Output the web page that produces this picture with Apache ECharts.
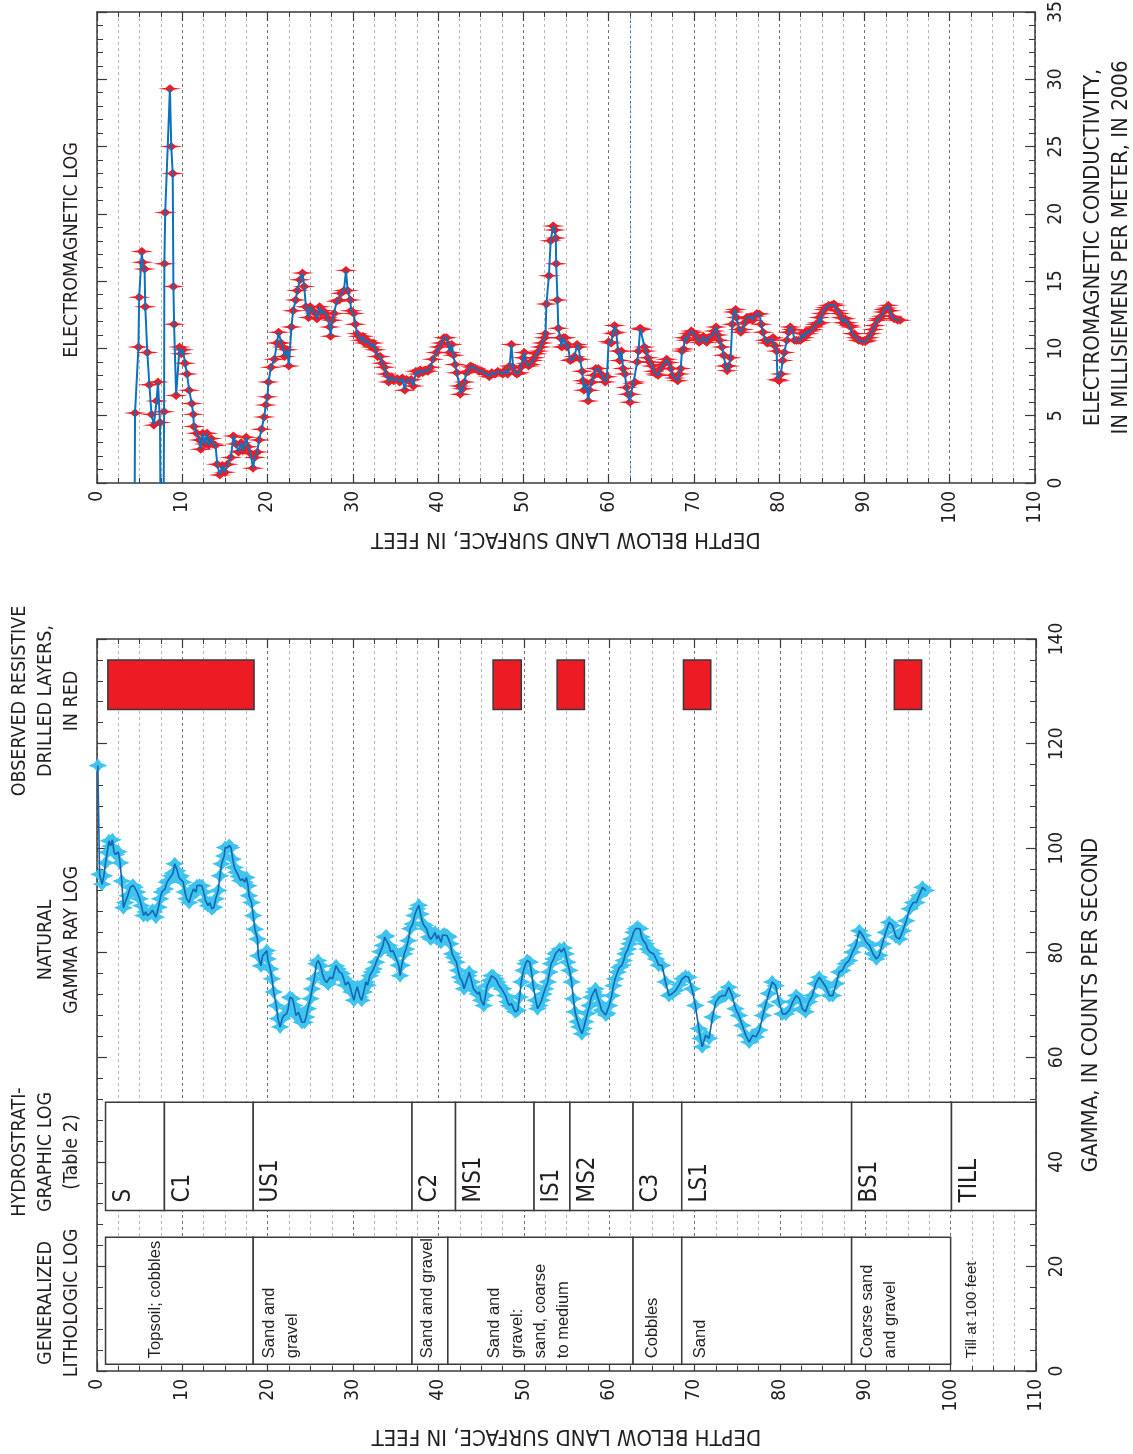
<!DOCTYPE html>
<html>
<head>
<meta charset="utf-8">
<title>Borehole logs</title>
<script src="https://cdn.jsdelivr.net/npm/echarts@6/dist/echarts.min.js"></script>
<style>
  html, body { margin: 0; padding: 0; background: #fff; }
  #chart { width: 1133px; height: 1454px; }
</style>
</head>
<body>
<div id="chart"></div>
<script>
// ---- Electromagnetic conductivity log, 2006: [depth ft, mS/m] (values below 0 fall off-scale)
const emLog = [
  [4.4,-4],[4.46,5.2],[4.86,10.1],[4.94,13.8],[5.26,17.2],[5.34,16.4],[5.58,15.9],[5.66,13.1],[5.9,9.7],[6.14,7.3],
  [6.39,5.1],[6.67,4.3],[6.99,6.1],[7.15,7.5],[7.39,4.5],[7.47,-4],[7.79,-4],[7.87,5.3],[7.9,16.3],[8.0,20.1],
  [8.55,29.3],[8.71,25.0],[8.88,23.0],[8.96,14.6],[9.04,11.8],[9.28,6.5],[9.68,10.1],[9.88,9.6],[10.08,9.9],[10.32,8.9],
  [10.56,8.1],[10.8,6.9],[11.12,5.9],[11.29,5.1],[11.37,4.2],[11.69,3.7],[12.0,3.2],[12.17,2.5],[12.4,3.7],[12.65,2.9],
  [12.9,3.7],[13.1,2.8],[13.4,3.3],[13.6,2.9],[13.9,2.8],[14.1,1.4],[14.4,0.6],[14.7,1.3],[15.0,0.8],[15.3,1.4],
  [15.7,1.9],[16.0,3.5],[16.3,2.9],[16.6,2.3],[16.9,3.0],[17.1,2.4],[17.5,3.4],[17.7,2.7],[18.0,2.2],[18.3,1.1],
  [18.5,1.9],[18.8,2.3],[19.0,3.2],[19.3,4.0],[19.6,4.9],[19.8,5.8],[20.0,6.4],[20.1,7.5],[20.4,8.6],[20.8,9.2],
  [21.1,10.4],[21.3,11.2],[21.6,10.4],[21.8,10.1],[22.0,9.4],[22.3,9.9],[22.5,8.7],[22.8,11.6],[23.0,12.8],[23.3,13.6],
  [23.5,14.3],[23.8,15.1],[24.1,15.6],[24.3,14.6],[24.5,13.1],[24.8,12.3],[25.0,13.1],[25.3,12.8],[25.6,12.6],[25.8,12.2],
  [26.1,13.1],[26.3,12.6],[26.5,12.8],[26.8,12.6],[27.0,12.3],[27.3,11.6],[27.4,10.9],[27.6,12.1],[27.8,12.6],[28.1,13.5],
  [28.4,13.6],[28.6,14.1],[28.96,14.3],[29.2,15.8],[29.4,14.3],[29.7,13.6],[29.8,12.8],[30.1,12.6],[30.3,11.8],[30.5,11.1],
  [30.7,10.9],[30.97,10.6],[31.2,10.9],[31.4,10.4],[31.7,10.6],[31.9,10.4],[32.2,10.1],[32.4,10.4],[32.65,9.9],[32.9,9.4],
  [33.2,9.4],[33.45,8.9],[33.7,8.6],[33.9,8.1],[34.2,7.5],[34.5,7.9],[34.8,7.6],[35.2,7.75],[35.5,7.5],[35.8,7.8],
  [36.1,6.9],[36.3,7.7],[36.6,7.6],[36.85,7.7],[37.1,7.2],[37.4,8.3],[37.7,8.1],[37.9,8.4],[38.2,8.2],[38.5,8.4],
  [38.8,8.3],[39.1,8.6],[39.4,9.2],[39.8,9.7],[40.1,10.1],[40.4,10.4],[40.7,10.8],[41.0,10.8],[41.2,10.3],[41.4,9.7],
  [41.6,10.3],[41.8,9.5],[42.0,8.8],[42.2,8.2],[42.5,7.2],[42.6,6.6],[42.9,7.0],[43.1,7.5],[43.3,8.2],[43.6,8.3],
  [43.8,8.7],[44.1,8.6],[44.4,8.5],[44.8,8.3],[45.1,8.3],[45.4,8.2],[45.7,8.1],[46.0,7.9],[46.3,8.2],[46.65,8.1],
  [47.0,8.3],[47.3,8.2],[47.6,8.1],[47.9,8.4],[48.15,8.1],[48.4,8.7],[48.6,10.3],[48.8,8.6],[49.0,8.2],[49.25,8.1],
  [49.5,8.2],[49.7,8.6],[49.96,9.3],[50.1,9.7],[50.35,8.9],[50.6,8.7],[50.8,8.8],[51.1,9.1],[51.3,9.3],[51.5,9.6],
  [51.8,9.8],[52.0,10.1],[52.2,10.4],[52.5,10.8],[52.6,11.1],[52.7,13.3],[53.0,15.4],[53.2,18.0],[53.5,19.1],[53.7,18.8],
  [53.8,18.2],[53.85,16.3],[54.0,13.6],[54.1,11.5],[54.3,10.8],[54.5,10.1],[54.7,10.8],[54.9,10.8],[55.1,10.1],[55.2,10.3],
  [55.5,9.1],[55.8,9.2],[56.0,9.4],[56.3,10.3],[56.5,10.1],[56.65,9.2],[56.9,8.3],[57.0,7.6],[57.1,6.9],[57.4,7.4],
  [57.6,6.1],[57.75,6.9],[58.0,7.5],[58.3,8.0],[58.5,8.5],[58.8,8.5],[59.1,8.1],[59.3,7.9],[59.6,7.5],[59.8,7.9],
  [60.0,10.5],[60.3,10.4],[60.5,11.1],[60.7,11.7],[60.9,11.2],[61.1,9.8],[61.3,9.1],[61.5,9.8],[61.7,8.5],[61.9,8.1],
  [62.1,7.1],[62.25,6.6],[62.5,6.0],[62.6,6.6],[62.9,7.4],[63.1,7.5],[63.35,9.0],[63.5,9.8],[63.7,11.5],[63.9,11.4],
  [64.2,10.1],[64.4,9.8],[64.6,9.3],[64.8,9.0],[65.1,8.7],[65.3,8.3],[65.55,8.1],[65.8,8.0],[66.1,8.5],[66.4,8.8],
  [66.6,8.95],[66.8,9.2],[67.05,8.95],[67.3,8.5],[67.5,8.0],[67.75,7.8],[68.1,7.6],[68.3,8.1],[68.45,8.5],[68.6,9.8],
  [68.8,9.95],[68.9,10.8],[69.15,10.6],[69.4,11.1],[69.7,11.3],[69.9,11.2],[70.15,11.0],[70.4,10.7],[70.6,10.45],[70.85,10.6],
  [71.1,10.9],[71.25,10.6],[71.5,10.45],[71.7,10.8],[71.9,10.7],[72.2,11.0],[72.4,11.3],[72.6,11.6],[72.8,11.0],[73.0,10.6],
  [73.3,10.1],[73.5,9.5],[73.7,8.7],[73.9,8.35],[74.1,8.7],[74.3,9.3],[74.5,11.8],[74.65,12.7],[74.9,12.9],[75.0,12.3],
  [75.3,11.4],[75.5,11.2],[75.7,11.4],[75.95,11.9],[76.2,12.3],[76.4,12.2],[76.7,12.36],[76.9,12.1],[77.1,12.4],[77.4,12.6],
  [77.7,12.55],[77.9,11.8],[78.1,11.2],[78.4,10.6],[78.6,10.4],[78.8,10.6],[79.1,10.7],[79.3,10.8],[79.5,10.2],[79.7,9.8],
  [79.8,7.7],[80.0,7.6],[80.2,8.1],[80.4,9.1],[80.6,9.7],[80.9,10.6],[81.1,11.2],[81.3,11.6],[81.55,11.4],[81.8,10.6],
  [82.0,10.6],[82.25,10.6],[82.5,10.6],[82.7,11.1],[82.9,10.8],[83.2,11.3],[83.4,11.1],[83.6,11.3],[83.9,11.4],[84.1,11.6],
  [84.3,11.8],[84.6,11.9],[84.7,12.3],[84.9,11.9],[85.0,12.6],[85.3,12.9],[85.5,13.05],[85.8,13.2],[86.1,13.2],[86.4,13.3],
  [86.6,13.2],[86.8,12.8],[87.05,12.6],[87.3,12.3],[87.5,11.9],[87.75,12.2],[88.0,11.9],[88.2,11.7],[88.4,11.6],[88.6,11.1],
  [88.8,11.1],[89.05,10.8],[89.3,10.6],[89.5,10.6],[89.8,10.5],[90.1,10.5],[90.3,10.6],[90.5,10.8],[90.8,11.1],[91.0,11.4],
  [91.2,11.7],[91.5,12.1],[91.7,12.2],[92.0,12.4],[92.2,12.7],[92.3,12.9],[92.6,13.0],[92.8,13.2],[93.0,12.8],[93.2,12.4],
  [93.5,12.2],[93.9,12.1],[94.2,12.1]
];

// ---- Natural gamma log: [depth ft, counts per second]
const gammaLog = [
  [0.1,115.8],[0.3,95.0],[0.6,93.1],[0.8,94.7],[1.0,97.2],[1.2,99.2],[1.4,101.4],[1.6,100.4],[1.8,101.6],[2.0,99.2],
  [2.2,98.8],[2.5,99.3],[2.7,97.2],[2.9,93.7],[3.1,88.6],[3.3,89.6],[3.6,90.9],[3.9,92.5],[4.2,92.9],[4.4,92.5],
  [4.7,91.6],[5.0,90.3],[5.2,89.0],[5.45,87.1],[5.7,87.8],[5.9,87.1],[6.2,87.5],[6.5,88.1],[6.7,87.8],[6.9,86.8],
  [7.2,88.7],[7.4,90.3],[7.6,91.6],[7.96,92.2],[8.2,93.5],[8.4,93.8],[8.7,94.7],[8.9,95.2],[9.1,97.0],[9.4,95.7],
  [9.6,94.4],[9.8,94.7],[10.1,93.5],[10.3,91.6],[10.5,90.3],[10.8,89.6],[11.0,90.9],[11.3,92.2],[11.6,91.6],[11.7,92.8],
  [12.0,92.9],[12.3,92.8],[12.5,91.6],[12.7,90.0],[13.0,89.0],[13.2,89.6],[13.45,88.4],[13.7,88.7],[13.9,90.3],[14.2,91.9],
  [14.4,94.7],[14.6,97.0],[14.9,98.5],[15.0,100.1],[15.3,100.1],[15.5,100.5],[15.7,100.1],[15.9,97.9],[16.1,96.3],[16.35,95.4],
  [16.6,94.6],[16.8,93.8],[17.05,94.1],[17.3,93.5],[17.5,94.4],[17.7,92.8],[17.8,90.9],[18.1,89.6],[18.3,87.1],[18.5,84.5],
  [18.8,82.6],[18.9,79.4],[19.2,77.5],[19.4,79.4],[19.6,79.8],[19.9,80.4],[20.0,78.8],[20.3,76.9],[20.5,75.0],[20.7,72.5],
  [21.0,69.9],[21.2,67.4],[21.45,65.8],[21.7,67.4],[21.9,68.0],[22.2,68.3],[22.4,69.3],[22.6,71.5],[22.9,71.2],[23.1,69.9],
  [23.3,68.0],[23.6,68.6],[23.8,67.7],[24.0,66.7],[24.3,66.7],[24.5,67.7],[24.7,69.3],[25.0,71.2],[25.2,73.1],[25.45,75.0],
  [25.7,77.9],[25.9,78.5],[26.2,77.5],[26.4,76.0],[26.6,75.0],[26.9,74.3],[27.1,74.0],[27.3,75.3],[27.6,75.0],[27.8,76.3],
  [28.0,77.5],[28.2,76.9],[28.4,76.3],[28.7,76.0],[28.9,75.0],[29.1,73.8],[29.4,74.4],[29.6,73.8],[29.8,72.5],[30.1,70.9],
  [30.3,72.5],[30.5,73.5],[30.8,71.5],[31.0,70.9],[31.25,72.5],[31.5,74.4],[31.7,73.8],[31.96,75.6],[32.2,76.3],[32.4,76.9],
  [32.7,78.2],[33.2,80.2],[33.5,81.4],[33.7,83.0],[33.9,83.2],[34.2,81.4],[34.4,80.2],[34.65,80.4],[34.9,79.5],[35.1,79.8],
  [35.35,77.6],[35.5,75.6],[35.7,77.6],[36.0,79.8],[36.2,80.7],[36.45,82.3],[36.7,84.6],[37.0,85.5],[37.2,87.1],[37.5,88.4],
  [37.7,89.1],[37.9,87.4],[38.2,85.5],[38.4,85.2],[38.6,84.6],[38.9,83.0],[39.1,82.6],[39.3,83.0],[39.6,83.9],[39.8,82.6],
  [40.0,83.3],[40.3,82.0],[40.5,83.4],[40.7,83.6],[41.0,83.3],[41.2,83.0],[41.4,81.7],[41.6,79.8],[41.8,79.1],[42.1,78.2],
  [42.3,76.6],[42.5,75.3],[42.8,74.4],[43.0,73.1],[43.2,74.1],[43.5,75.6],[43.6,76.3],[43.9,74.4],[44.1,73.1],[44.3,72.8],
  [44.6,72.1],[44.8,72.5],[45.0,70.9],[45.3,69.9],[45.5,71.8],[45.7,73.7],[46.0,74.7],[46.2,75.6],[46.4,75.6],[46.7,75.0],
  [46.9,74.4],[47.1,73.7],[47.4,73.1],[47.6,73.1],[47.85,71.8],[48.1,70.6],[48.3,69.9],[48.55,70.3],[48.8,69.3],[49.0,68.7],
  [49.3,69.0],[49.5,71.5],[49.7,74.4],[49.96,76.6],[50.2,77.9],[50.4,78.5],[50.7,78.2],[50.9,76.3],[51.1,73.7],[51.4,70.9],
  [51.6,69.3],[51.8,69.9],[52.1,70.9],[52.3,72.1],[52.5,73.1],[52.8,74.4],[53.0,76.3],[53.2,77.9],[53.5,78.8],[53.7,79.8],
  [53.9,80.1],[54.2,80.7],[54.4,80.1],[54.7,80.9],[54.9,79.8],[55.1,78.2],[55.35,76.6],[55.6,74.4],[55.8,71.2],[56.0,68.7],
  [56.3,66.8],[56.5,65.8],[56.8,64.5],[57.0,65.5],[57.2,66.8],[57.45,68.4],[57.7,69.9],[57.9,71.5],[58.2,72.5],[58.4,73.1],
  [58.6,71.8],[58.9,70.3],[59.1,69.0],[59.3,68.7],[59.6,68.1],[59.8,68.4],[60.0,69.9],[60.3,71.8],[60.5,73.7],[60.7,75.0],
  [60.98,76.3],[61.2,77.2],[61.5,77.6],[61.7,78.5],[61.9,79.8],[62.2,80.7],[62.4,81.7],[62.6,82.6],[62.85,83.9],[63.1,84.6],
  [63.3,84.9],[63.6,84.6],[63.8,83.0],[64.0,82.3],[64.3,81.7],[64.5,80.7],[64.8,80.1],[65.0,80.4],[65.2,79.8],[65.5,78.8],
  [65.8,77.6],[66.2,77.6],[66.6,74.4],[67.0,71.8],[67.4,72.2],[67.8,72.8],[68.2,73.9],[68.55,75.0],[68.95,75.5],[69.3,75.3],
  [69.7,73.1],[70.1,69.9],[70.5,65.5],[70.7,63.6],[70.9,62.0],[71.3,64.2],[71.7,63.6],[72.1,67.7],[72.5,70.6],[72.9,71.5],
  [73.25,71.8],[73.6,71.8],[74.0,73.4],[74.4,71.8],[74.8,69.3],[75.2,68.0],[75.6,66.1],[76.0,64.2],[76.4,62.9],[76.8,64.2],
  [77.2,63.9],[77.6,65.2],[78.0,68.0],[78.3,69.9],[78.7,72.2],[79.1,74.4],[79.5,73.7],[79.9,70.6],[80.3,68.3],[80.7,68.3],
  [81.1,69.0],[81.5,70.6],[81.9,71.8],[82.3,71.2],[82.6,69.3],[83.0,68.7],[83.4,70.6],[83.8,71.8],[84.2,74.1],[84.6,75.3],
  [85.0,74.4],[85.4,73.4],[85.8,71.8],[86.2,71.8],[86.6,74.1],[86.95,76.3],[87.3,76.6],[87.7,77.9],[88.1,78.5],[88.5,80.1],
  [88.9,81.4],[89.3,84.2],[89.7,83.3],[90.1,82.0],[90.5,81.4],[90.9,79.8],[91.3,78.8],[91.65,79.5],[92.0,81.7],[92.4,83.9],
  [92.8,85.8],[93.2,85.2],[93.6,83.0],[94.0,82.6],[94.4,84.2],[94.8,86.1],[95.2,88.4],[95.6,89.6],[96.0,89.6],[96.3,90.9],
  [96.7,92.5],[97.1,91.9]
];

// ---- Generalized lithologic log: depth intervals (ft) and descriptions
const lithIntervals = [[1,18.3],[18.3,36.9],[36.9,41.1],[41.1,62.8],[62.8,68.5],[68.5,88.4],[88.4,100]];
const lithLabels = ['Topsoil; cobbles','Sand and\ngravel','Sand and gravel','Sand and\ngravel:\nsand, coarse\nto medium','Cobbles','Sand','Coarse sand\nand gravel'];
const lithNoteDepth = [6.9, 20.2, 38.7, 46.6, 65.1, 70.7, 90.3];
const tillNote = { depth: 102.5, text: 'Till at 100 feet' };

// ---- Hydrostratigraphic units (Table 2): boundaries in ft
const hydroUnits = ['S','C1','US1','C2','MS1','IS1','MS2','C3','LS1','BS1','TILL'];
const hydroBounds = [1, 7.9, 18.3, 36.9, 42.0, 51.2, 55.4, 62.8, 68.5, 88.4, 100.1, 110];

// ---- Observed resistive drilled layers: depth intervals (ft)
const resistiveLayers = [[1.27,18.4],[46.4,49.7],[53.9,57.1],[68.7,71.9],[93.4,96.6]];

// ---- axis ranges
const depthRange = [0, 110];
const emRange = [0, 35];
const gammaRange = [0, 140];

// ---- styling
const NARROW = "'Liberation Sans Narrow','DejaVu Sans Condensed','Liberation Sans',sans-serif";
const PLAIN = "'Liberation Sans','DejaVu Sans',sans-serif";
const INK = '#231f20';
const FRAME = '#3a3a3a';

// columns of the lower panel, in gamma-axis units
const LITH_BAND = [1.3, 25.6];
const HYDRO_BAND = [30.7, 51.4];
const RESIST_BAND = [126.5, 136];

const chart = echarts.init(document.getElementById('chart'), null, { renderer: 'canvas' });

function depthAxis(grid, withLabels) {
  return {
    gridIndex: grid, type: 'value', min: depthRange[0], max: depthRange[1], interval: 10,
    position: withLabels ? 'bottom' : 'top',
    axisLine: { show: true, onZero: false, lineStyle: { color: FRAME, width: 1.5 } },
    axisTick: { show: true, inside: true, length: 9, lineStyle: { color: FRAME, width: 1.2 } },
    minorTick: { show: true, splitNumber: 4, length: 5, lineStyle: { color: FRAME, width: 1 } },
    axisLabel: withLabels
      ? { show: true, rotate: 90, margin: 8, fontSize: 19, fontFamily: NARROW, color: INK }
      : { show: false },
    splitLine: withLabels ? { show: true, lineStyle: { type: [3, 3], color: '#707070', width: 1 } } : { show: false },
    minorSplitLine: withLabels ? { show: true, lineStyle: { type: [3, 3], color: '#b8b8b8', width: 1 } } : { show: false },
    name: withLabels ? 'DEPTH BELOW LAND SURFACE, IN FEET' : '',
    nameLocation: 'middle', nameRotate: 180, nameGap: grid === 0 ? 45 : 54,
    nameTextStyle: { fontSize: 22, fontFamily: NARROW, color: INK }
  };
}

function valueAxis(grid, range, interval, minorSplit, withLabels, name, gap) {
  return {
    gridIndex: grid, type: 'value', min: range[0], max: range[1], interval: interval,
    position: withLabels ? 'right' : 'left',
    axisLine: { show: true, onZero: false, lineStyle: { color: FRAME, width: 1.5 } },
    axisTick: { show: true, inside: true, length: 10, lineStyle: { color: FRAME, width: 1.2 } },
    minorTick: { show: true, splitNumber: minorSplit, length: 6, lineStyle: { color: FRAME, width: 1 } },
    axisLabel: withLabels
      ? { show: true, rotate: 90, margin: 12, fontSize: 19, fontFamily: NARROW, color: INK }
      : { show: false },
    splitLine: { show: false },
    name: withLabels ? name : '',
    nameLocation: 'middle', nameRotate: 90, nameGap: gap || 45,
    nameTextStyle: { fontSize: 22, lineHeight: 28, fontFamily: NARROW, color: INK, align: 'center' }
  };
}

// 4-point markers: flat red star for EM readings, cyan star for gamma readings
const EM_MARK = 'path://M0,5L6.5,3.9L9,1.2L10,0L11,1.2L13.5,3.9L20,5L13.5,6.1L11,8.8L10,10L9,8.8L6.5,6.1Z';
const GAMMA_MARK = 'path://M0,5L3,3.3L5,0L7,3.3L10,5L7,6.7L5,10L3,6.7Z';

function heading(text, cx, cy) {
  return {
    type: 'text', x: cx, y: cy, rotation: Math.PI / 2, silent: true,
    style: {
      text: text, fontSize: 19.5, fontFamily: NARROW, fill: INK,
      align: 'center', verticalAlign: 'middle', lineHeight: 26
    }
  };
}

const option = {
  animation: false,
  backgroundColor: '#fff',
  grid: [
    { left: 97, top: 12, width: 938, height: 471, containLabel: false, outerBoundsMode: 'none' },
    { left: 97, top: 639, width: 939, height: 732, containLabel: false, outerBoundsMode: 'none' }
  ],
  xAxis: [depthAxis(0, true), depthAxis(0, false), depthAxis(1, true), depthAxis(1, false)],
  yAxis: [
    valueAxis(0, emRange, 5, 5, true, 'ELECTROMAGNETIC CONDUCTIVITY,\nIN MILLISIEMENS PER METER, IN 2006', 44),
    valueAxis(0, emRange, 5, 5, false, ''),
    valueAxis(1, gammaRange, 20, 5, true, 'GAMMA, IN COUNTS PER SECOND', 41),
    valueAxis(1, gammaRange, 20, 5, false, '')
  ],
  graphic: [
    heading('ELECTROMAGNETIC LOG', 72, 250),
    heading('OBSERVED RESISTIVE\nDRILLED LAYERS,\nIN RED', 46, 701),
    heading('NATURAL\nGAMMA RAY LOG', 59, 940),
    heading('HYDROSTRATI-\nGRAPHIC LOG\n(Table 2)', 46, 1152),
    heading('GENERALIZED\nLITHOLOGIC LOG', 59, 1303)
  ],
  series: [
    {
      name: 'EM readings', type: 'scatter', xAxisIndex: 0, yAxisIndex: 0,
      data: emLog, symbol: EM_MARK, symbolSize: [23, 9], clip: true, z: 3,
      itemStyle: { color: '#ee1c25', opacity: 1 },
      markLine: {
        silent: true, symbol: 'none', label: { show: false },
        lineStyle: { color: '#2a78b8', type: [2, 3], width: 1 },
        data: [{ xAxis: 62.5 }]
      }
    },
    {
      name: 'EM log', type: 'line', xAxisIndex: 0, yAxisIndex: 0,
      data: emLog, showSymbol: false, clip: true, z: 4,
      lineStyle: { color: '#0b72bd', width: 2 }
    },
    {
      name: 'Gamma readings', type: 'scatter', xAxisIndex: 2, yAxisIndex: 2,
      data: gammaLog, symbol: GAMMA_MARK, symbolSize: [19, 14], z: 3,
      itemStyle: { color: '#3ec4ef', opacity: 1 }
    },
    {
      name: 'Gamma log', type: 'line', xAxisIndex: 2, yAxisIndex: 2,
      data: gammaLog, showSymbol: false, z: 4,
      lineStyle: { color: '#1566b0', width: 1.6 }
    },
    {
      name: 'Resistive layers', type: 'custom', xAxisIndex: 2, yAxisIndex: 2, z: 5,
      data: resistiveLayers,
      encode: { x: [0, 1] },
      renderItem: function (params, api) {
        const a = api.coord([api.value(0), RESIST_BAND[1]]);
        const b = api.coord([api.value(1), RESIST_BAND[0]]);
        return {
          type: 'rect',
          shape: { x: a[0], y: a[1], width: b[0] - a[0], height: b[1] - a[1] },
          style: { fill: '#ed1c24', stroke: FRAME, lineWidth: 1.5 }
        };
      }
    },
    {
      name: 'Hydrostratigraphic log', type: 'custom', xAxisIndex: 2, yAxisIndex: 2, z: 5,
      data: hydroUnits.map(function (u, i) { return [hydroBounds[i], hydroBounds[i + 1], i]; }),
      encode: { x: [0, 1] },
      renderItem: function (params, api) {
        const a = api.coord([api.value(0), HYDRO_BAND[1]]);
        const b = api.coord([api.value(1), HYDRO_BAND[0]]);
        return {
          type: 'group',
          children: [
            {
              type: 'rect',
              shape: { x: a[0], y: a[1], width: b[0] - a[0], height: b[1] - a[1] },
              style: { fill: '#fff', stroke: FRAME, lineWidth: 1.5 }
            },
            {
              type: 'text', x: a[0] + 18, y: b[1] - 8, rotation: Math.PI / 2,
              style: {
                text: hydroUnits[api.value(2)], fontSize: 24, fontFamily: NARROW, fill: INK,
                align: 'left', verticalAlign: 'middle'
              }
            }
          ]
        };
      }
    },
    {
      name: 'Lithologic log', type: 'custom', xAxisIndex: 2, yAxisIndex: 2, z: 5,
      data: lithIntervals.map(function (iv, i) { return [iv[0], iv[1], lithNoteDepth[i], i]; }),
      encode: { x: [0, 1] },
      renderItem: function (params, api) {
        const a = api.coord([api.value(0), LITH_BAND[1]]);
        const b = api.coord([api.value(1), LITH_BAND[0]]);
        const t = api.coord([api.value(2), LITH_BAND[0]]);
        return {
          type: 'group',
          children: [
            {
              type: 'rect',
              shape: { x: a[0], y: a[1], width: b[0] - a[0], height: b[1] - a[1] },
              style: { fill: '#fff', stroke: FRAME, lineWidth: 1.5 }
            },
            {
              type: 'text', x: t[0] - 11.5, y: t[1] - 6, rotation: Math.PI / 2,
              style: {
                text: lithLabels[api.value(3)], fontSize: 16.5, fontFamily: PLAIN, fill: INK,
                align: 'left', verticalAlign: 'top', lineHeight: 23
              }
            }
          ]
        };
      }
    },
    {
      name: 'Till note', type: 'custom', xAxisIndex: 2, yAxisIndex: 2, z: 5,
      data: [[tillNote.depth]],
      encode: { x: 0 },
      renderItem: function (params, api) {
        const t = api.coord([api.value(0), LITH_BAND[0]]);
        return {
          type: 'text', x: t[0], y: t[1] - 6, rotation: Math.PI / 2,
          style: {
            text: tillNote.text, fontSize: 15.5, fontFamily: PLAIN, fill: INK,
            align: 'left', verticalAlign: 'middle'
          }
        };
      }
    }
  ]
};

chart.setOption(option);
</script>
</body>
</html>
